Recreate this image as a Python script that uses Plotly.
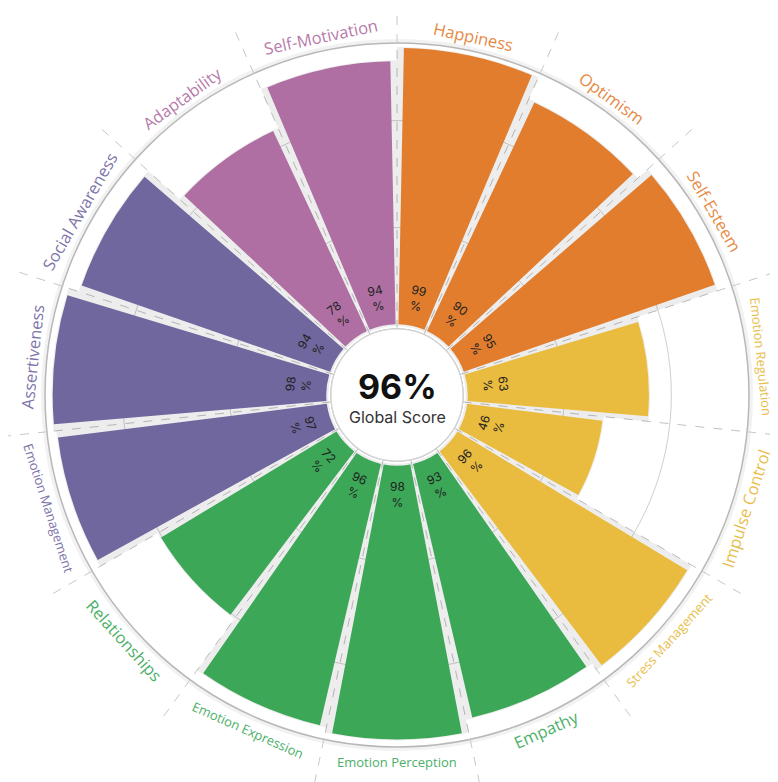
import math
import plotly.graph_objects as go

# ---------------- data ----------------
categories = ["Happiness", "Optimism", "Self-Esteem", "Emotion Regulation", "Impulse Control",
              "Stress Management", "Empathy", "Emotion Perception", "Emotion Expression",
              "Relationships", "Emotion Management", "Assertiveness", "Social Awareness",
              "Adaptability", "Self-Motivation"]
scores = [99, 90, 95, 63, 46, 96, 93, 98, 96, 72, 97, 98, 94, 78, 94]
groups = ["orange", "orange", "orange", "yellow", "yellow", "yellow", "green", "green", "green",
          "green", "purple", "purple", "purple", "pink", "pink"]
global_score = 96
center_caption = "Global Score"

# ---------------- styling ----------------
W, H = 778, 782
CX, CY = 389, 387          # circle centre in figure px (page body adds 8px offset)
R_OUT = 352                # outer radius px
R_HOLE = 66                # hole radius px
R_MIN, R_MAX = -7.4, 100.9  # radial axis range
BASE = -5.6                # bar base (radial units)

bar_colors = {"orange": "#E27D2E", "yellow": "#E9BB3E", "green": "#3BA757",
              "purple": "#71679F", "pink": "#B06FA3"}
label_colors = {"orange": "#E68A45", "yellow": "#E8BE4C", "green": "#4DB068",
                "purple": "#7D74AA", "pink": "#B67BAA"}

n = len(categories)
step = 360 / n
thetas = [step * (i + 0.5) for i in range(n)]
bounds = [step * i for i in range(n)]


def paper(r_px, ang):
    a = math.radians(ang)
    return (CX + r_px * math.sin(a)) / W, 1 - (CY - r_px * math.cos(a)) / H


fig = go.Figure()

# soft shadow / gap fill behind the bars
fig.add_trace(go.Barpolar(
    r=[s - BASE + 1.2 for s in scores], theta=thetas, base=BASE - 0.8, width=[step] * n,
    marker=dict(color="rgba(0,0,0,0.07)", line=dict(width=0)),
    hoverinfo="skip", showlegend=False))

# coloured bars
fig.add_trace(go.Barpolar(
    r=[s - BASE for s in scores], theta=thetas, base=BASE, width=[step * 0.905] * n,
    marker=dict(color=[bar_colors[g] for g in groups], line=dict(width=0)),
    customdata=scores, text=categories,
    hovertemplate="%{text}: %{customdata}%<extra></extra>", showlegend=False))

xd = ((CX - R_OUT) / W, (CX + R_OUT) / W)
yd = (1 - (CY + R_OUT) / H, 1 - (CY - R_OUT) / H)

fig.update_layout(
    width=W, height=H, margin=dict(l=0, r=0, t=0, b=0),
    paper_bgcolor="white", plot_bgcolor="white",
    polar=dict(
        domain=dict(x=list(xd), y=list(yd)),
        hole=R_HOLE / R_OUT,
        bgcolor="white",
        bargap=0,
        radialaxis=dict(range=[R_MIN, R_MAX], showticklabels=False, ticks="", showline=False,
                        tickvals=[31, 71.5], showgrid=True, gridcolor="#cfcfcf", gridwidth=1),
        angularaxis=dict(direction="clockwise", rotation=90, thetaunit="degrees",
                         tickvals=bounds, showticklabels=False, ticks="",
                         showgrid=True, gridcolor="#c2c2c2", gridwidth=1, griddash="dash",
                         showline=True, linecolor="#b8b8b8", linewidth=1.5),
    ),
)

shapes = []
# faint halo outside the frame
shapes.append(dict(type="circle", xref="paper", yref="paper",
                   x0=(CX - R_OUT - 2) / W, x1=(CX + R_OUT + 2) / W,
                   y0=1 - (CY + R_OUT + 2) / H, y1=1 - (CY - R_OUT - 2) / H,
                   line=dict(color="rgba(0,0,0,0.05)", width=4), layer="below"))
# hole border
shapes.append(dict(type="circle", xref="paper", yref="paper",
                   x0=(CX - R_HOLE) / W, x1=(CX + R_HOLE) / W,
                   y0=1 - (CY + R_HOLE) / H, y1=1 - (CY - R_HOLE) / H,
                   line=dict(color="#d6d6d6", width=1.2), fillcolor="white", layer="above"))
# dashed separators continuing outside the frame
for b in bounds:
    x0, y0 = paper(R_OUT, b)
    x1, y1 = paper(R_OUT + 50, b)
    shapes.append(dict(type="line", xref="paper", yref="paper", x0=x0, y0=y0, x1=x1, y1=y1,
                       line=dict(color="#c8c8c8", width=1, dash="dash")))
fig.update_layout(shapes=shapes)

ann = []
for cat, sc, g, th in zip(categories, scores, groups, thetas):
    bottom = 90 < th < 270
    rot = th - 180 if bottom else (th if th <= 90 else th - 360)
    # category label
    x, y = paper(366.5, th)
    size = 16.5 if len(cat) <= 16 else 13
    ann.append(dict(x=x, y=y, xref="paper", yref="paper", text=cat, showarrow=False,
                    xanchor="center", yanchor="middle", textangle=rot,
                    font=dict(family="Open Sans", size=size, color=label_colors[g])))
    # value label
    x, y = paper(99, th)
    ann.append(dict(x=x, y=y, xref="paper", yref="paper", text=f"{sc}<br>%", showarrow=False,
                    xanchor="center", yanchor="middle", textangle=rot,
                    font=dict(family="Inter", size=12, color="#222222")))

ann.append(dict(x=CX / W, y=1 - 378 / H, xref="paper", yref="paper", text=f"<b>{global_score}%</b>",
                showarrow=False, xanchor="center", yanchor="middle",
                font=dict(family="Inter", size=34, color="#111111")))
ann.append(dict(x=CX / W, y=1 - 409 / H, xref="paper", yref="paper", text=center_caption,
                showarrow=False, xanchor="center", yanchor="middle",
                font=dict(family="Inter", size=16, color="#333333")))
fig.update_layout(annotations=ann)

fig.write_html("out.html")
